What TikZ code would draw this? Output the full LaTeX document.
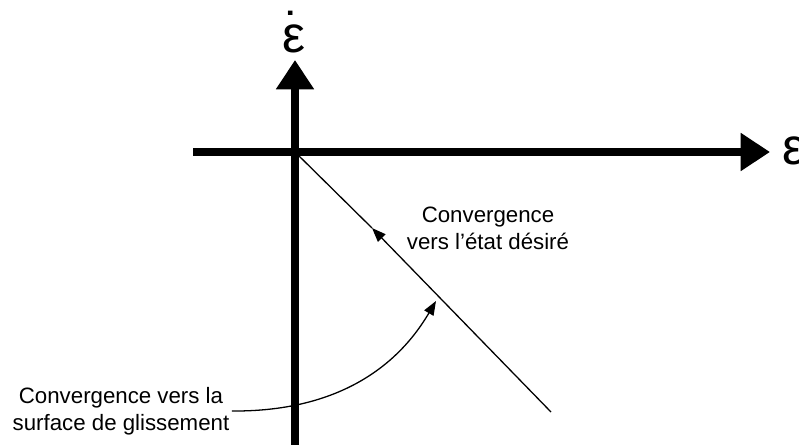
\documentclass[tikz,border=0pt]{standalone}
\usepackage{fontspec}
\setmainfont{Liberation Sans}
\usetikzlibrary{arrows.meta}

\begin{document}
\begin{tikzpicture}[x=0.03cm,y=-0.03cm,
  axis/.style={line width=6.8pt,-{Triangle[length=25pt,width=31pt]}},
  thinln/.style={line width=1.1pt},
  smalltip/.style={-{Triangle[length=12pt,width=9pt]}},
  lbl/.style={font=\fontsize{19}{23}\selectfont,align=center,inner sep=2pt},
  greek/.style={font=\fontsize{44}{44}\selectfont,inner sep=0pt,anchor=base}]
  \useasboundingbox (0,0) rectangle (799,445);
  % origin and ends of the axes
  \coordinate (O) at (295,152);
  \coordinate (xs) at (193,152);
  \coordinate (xe) at (770,152);
  \coordinate (ys) at (295,445);
  \coordinate (ye) at (295,60);
  % axes
  \draw[axis] (xs) -- (xe);
  \draw[axis] (ys) -- (ye);
  \node[greek] (eps) at (793.5,164) {ε};
  \node[greek] (epsdot) at (293.5,52)
    {\ooalign{ε\cr\hidewidth\raisebox{3pt}{˙}\hidewidth\cr}};
  % sliding surface
  \coordinate (send) at (551,412);
  \coordinate (smid) at (372,228);
  \draw[thinln,smalltip] (send) -- (smid);
  \draw[thinln] (smid) -- (O);
  \node[lbl] (state) at (488,228) {Convergence\\vers l’état désiré};
  % reaching phase
  \coordinate (tip) at (436,301);
  \node[lbl] (surf) at (121,411) {Convergence vers la\\surface de glissement};
  \draw[thinln,smalltip] (surf.east) .. controls (360,412) and (410,345) .. (tip);
\end{tikzpicture}
\end{document}
